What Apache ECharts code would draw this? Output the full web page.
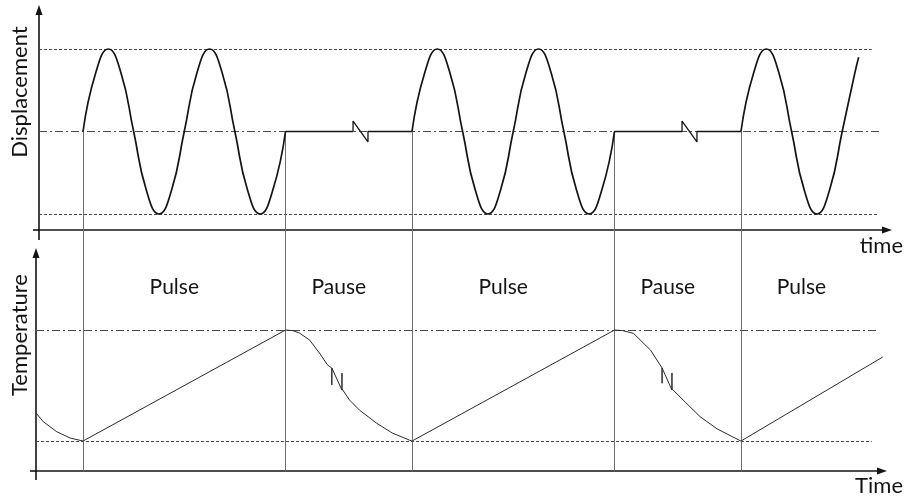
<!DOCTYPE html>
<html>
<head>
<meta charset="utf-8">
<title>Pulse / Pause</title>
<script src="https://cdn.jsdelivr.net/npm/echarts@6/dist/echarts.min.js"></script>
<style>
  html, body { margin: 0; padding: 0; background: #fff; }
  #chart { width: 904px; height: 498px; }
</style>
</head>
<body>
<div id="chart"></div>
<script>
// Phases of the cycle (time units) and their names
const phaseNames = ['Pulse', 'Pause', 'Pulse', 'Pause', 'Pulse'];
const phaseBounds = [0, 8, 13, 21, 26, 31.6];

// Displacement during each pulse: oscillation about the rest position
const pulse1Time = [0, 0.5, 1, 1.5, 2, 2.5, 3, 3.5, 4, 4.5, 5, 5.5, 6, 6.5, 7, 7.5, 8];
const pulse1Disp = [0, 0.71, 1, 0.71, 0, -0.71, -1, -0.71, 0, 0.71, 1, 0.71, 0, -0.71, -1, -0.71, 0];
const pulse2Time = [13, 13.5, 14, 14.5, 15, 15.5, 16, 16.5, 17, 17.5, 18, 18.5, 19, 19.5, 20, 20.5, 21];
const pulse2Disp = [0, 0.71, 1, 0.71, 0, -0.71, -1, -0.71, 0, 0.71, 1, 0.71, 0, -0.71, -1, -0.71, 0];
const pulse3Time = [26, 26.5, 27, 27.5, 28, 28.5, 29, 29.5, 30, 30.5, 30.65];
const pulse3Disp = [0, 0.71, 1, 0.71, 0, -0.71, -1, -0.71, 0, 0.71, 0.9];

// Displacement during the pauses (at rest, with a break mark)
const pause1Time = [8, 10.67, 10.67, 11.26, 11.26, 13];
const pause1Disp = [0, 0, 0.127, -0.127, 0, 0];
const pause2Time = [21, 23.67, 23.67, 24.26, 24.26, 26];
const pause2Disp = [0, 0, 0.127, -0.127, 0, 0];

// Temperature over the whole cycle (relative: 0 = lower level, 1 = upper level)
const tempTime = [-1.86, -1.57, -1.04, -0.51, 0,
  8, 8.28, 8.55, 8.95, 9.34, 9.66, 9.83, 9.83, 9.83, 10.23, 10.23, 10.23,
  10.53, 10.92, 11.59, 12.22, 12.89, 13,
  21, 21.32, 21.75, 22.42, 22.88, 22.88, 22.88, 23.27, 23.27, 23.27,
  23.71, 24.38, 25.05, 25.68, 26,
  31.6];
const tempValue = [0.252, 0.174, 0.084, 0.027, 0,
  1, 0.995, 0.973, 0.91, 0.793, 0.685, 0.658, 0.505, 0.658, 0.459, 0.613, 0.47,
  0.369, 0.279, 0.162, 0.072, 0.009, 0,
  1, 0.995, 0.97, 0.82, 0.658, 0.52, 0.658, 0.459, 0.613, 0.47,
  0.37, 0.22, 0.11, 0.036, 0,
  0.757];

// Reference levels: [value, end time]
const dispLevelMax = [1, 31.17];
const dispLevelRest = [0, 31.49];
const dispLevelMin = [-1, 31.37];
const tempLevelMax = [1, 31.37];
const tempLevelMin = [0, 31.17];

const zip = (xs, ys) => xs.map((x, i) => [x, ys[i]]);

const FONT = 'Lato, "Open Sans", sans-serif';
const INK = '#141414';
const dashed = [3, 2];
const dashDot = [8, 3, 2, 3];

const topX = { min: -1.74, max: 31.77 };
const botX = { min: -1.86, max: 31.57 };

function axisX(gridIndex, range) {
  return {
    type: 'value', gridIndex, min: range.min, max: range.max,
    axisLine: { show: true, onZero: false, symbol: ['none', 'triangle'], symbolSize: [7, 10],
      lineStyle: { color: INK, width: 1.6 } },
    axisTick: { show: false }, axisLabel: { show: false }, splitLine: { show: false }
  };
}
function axisY(gridIndex, min, max, show) {
  return {
    type: 'value', gridIndex, min, max,
    axisLine: { show, onZero: false, symbol: ['none', 'triangle'], symbolSize: [7, 10],
      lineStyle: { color: INK, width: 1.6 } },
    axisTick: { show: false }, axisLabel: { show: false }, splitLine: { show: false }
  };
}
// horizontal reference line from the vertical axis to the level's end time
function levelLine(level, startX, type) {
  return [
    { coord: [startX, level[0]], lineStyle: { type, color: '#4a4a4a', width: 1 } },
    { coord: [level[1], level[0]] }
  ];
}
const markLineBase = { silent: true, symbol: ['none', 'none'], label: { show: false }, animation: false };

const dispLine = { color: INK, width: 1.7 };

const option = {
  animation: false,
  backgroundColor: '#fff',
  grid: [
    { left: 39, right: 17, top: 10, bottom: 268 },
    { left: 36, right: 22, top: 253, bottom: 27 },
    { left: 36, right: 22, top: 131, bottom: 27 }
  ],
  xAxis: [axisX(0, topX), axisX(1, botX), Object.assign(axisX(2, botX), { show: false })],
  yAxis: [
    axisY(0, -1.194, 1.473, true),
    axisY(1, -0.27, 1.694, true),
    axisY(2, 0, 1, false)
  ],
  series: [
    { type: 'line', xAxisIndex: 0, yAxisIndex: 0, data: zip(pulse1Time, pulse1Disp), smooth: true,
      showSymbol: false, lineStyle: dispLine, z: 5,
      markLine: Object.assign({}, markLineBase, { data: [
        levelLine(dispLevelMax, topX.min, dashed),
        levelLine(dispLevelRest, topX.min, dashDot),
        levelLine(dispLevelMin, topX.min, dashed)
      ] }) },
    { type: 'line', xAxisIndex: 0, yAxisIndex: 0, data: zip(pulse2Time, pulse2Disp), smooth: true,
      showSymbol: false, lineStyle: dispLine, z: 5 },
    { type: 'line', xAxisIndex: 0, yAxisIndex: 0, data: zip(pulse3Time, pulse3Disp), smooth: true,
      showSymbol: false, lineStyle: dispLine, z: 5 },
    { type: 'line', xAxisIndex: 0, yAxisIndex: 0, data: zip(pause1Time, pause1Disp),
      showSymbol: false, lineStyle: { color: INK, width: 1.3 }, z: 5 },
    { type: 'line', xAxisIndex: 0, yAxisIndex: 0, data: zip(pause2Time, pause2Disp),
      showSymbol: false, lineStyle: { color: INK, width: 1.3 }, z: 5 },
    { type: 'line', xAxisIndex: 1, yAxisIndex: 1, data: zip(tempTime, tempValue), clip: false,
      showSymbol: false, lineStyle: { color: '#2a2a2a', width: 1 }, z: 5,
      markLine: Object.assign({}, markLineBase, { data: [
        levelLine(tempLevelMax, botX.min, dashDot),
        levelLine(tempLevelMin, botX.min, dashed)
      ] }),
      markArea: {
        silent: true,
        itemStyle: { color: 'rgba(0,0,0,0)' },
        label: { show: true, position: 'insideTop', offset: [-10, 19],
          fontFamily: FONT, fontSize: 21, color: INK },
        data: phaseNames.map((name, i) => [
          { name, xAxis: phaseBounds[i] }, { xAxis: phaseBounds[i + 1] }
        ])
      } },
    // Phase boundaries, spanning both panels
    { type: 'line', xAxisIndex: 2, yAxisIndex: 2, data: [], z: 3,
      markLine: Object.assign({}, markLineBase, {
        lineStyle: { type: 'solid', color: '#6e6e6e', width: 1 },
        data: phaseBounds.slice(0, phaseNames.length).map(x => ({ xAxis: x }))
      }) }
  ],
  graphic: [
    { type: 'text', x: 20, y: 92, rotation: Math.PI / 2,
      style: { text: 'Displacement', font: '22px ' + FONT, fill: INK, align: 'center', verticalAlign: 'middle' } },
    { type: 'text', x: 20, y: 335, rotation: Math.PI / 2,
      style: { text: 'Temperature', font: '22px ' + FONT, fill: INK, align: 'center', verticalAlign: 'middle' } },
    { type: 'text', x: 903, y: 246,
      style: { text: 'time', font: '22px ' + FONT, fill: INK, align: 'right', verticalAlign: 'middle' } },
    { type: 'text', x: 903, y: 486,
      style: { text: 'Time', font: '22px ' + FONT, fill: INK, align: 'right', verticalAlign: 'middle' } },
    // short axis overhangs past the origin
    { type: 'line', shape: { x1: 39, y1: 230, x2: 39, y2: 240 }, style: { stroke: INK, lineWidth: 1.6 } },
    { type: 'line', shape: { x1: 33, y1: 230, x2: 39, y2: 230 }, style: { stroke: INK, lineWidth: 1.6 } },
    { type: 'line', shape: { x1: 36, y1: 471, x2: 36, y2: 480 }, style: { stroke: INK, lineWidth: 1.6 } },
    { type: 'line', shape: { x1: 30, y1: 471, x2: 36, y2: 471 }, style: { stroke: INK, lineWidth: 1.6 } }
  ]
};

const chart = echarts.init(document.getElementById('chart'), null, { renderer: 'canvas', width: 904, height: 498 });
chart.setOption(option);
</script>
</body>
</html>
